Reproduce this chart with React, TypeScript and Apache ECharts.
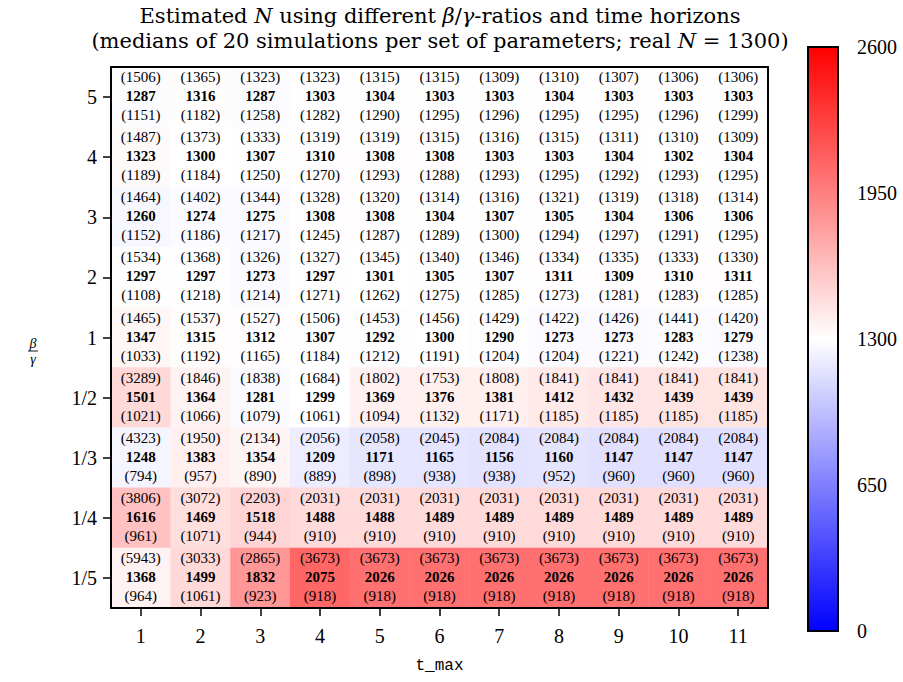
import React, { useEffect, useRef } from 'react';
import * as echarts from 'echarts';

// time horizons (columns)
const xCategories = ['1', '2', '3', '4', '5', '6', '7', '8', '9', '10', '11'];
// beta/gamma ratios, listed from top row to bottom row
const rowLabels = ['5', '4', '3', '2', '1', '1/2', '1/3', '1/4', '1/5'];

// upper quantile (first line in parentheses), rows top to bottom
const upperValues: number[][] = [
  [1506, 1365, 1323, 1323, 1315, 1315, 1309, 1310, 1307, 1306, 1306],
  [1487, 1373, 1333, 1319, 1319, 1315, 1316, 1315, 1311, 1310, 1309],
  [1464, 1402, 1344, 1328, 1320, 1314, 1316, 1321, 1319, 1318, 1314],
  [1534, 1368, 1326, 1327, 1345, 1340, 1346, 1334, 1335, 1333, 1330],
  [1465, 1537, 1527, 1506, 1453, 1456, 1429, 1422, 1426, 1441, 1420],
  [3289, 1846, 1838, 1684, 1802, 1753, 1808, 1841, 1841, 1841, 1841],
  [4323, 1950, 2134, 2056, 2058, 2045, 2084, 2084, 2084, 2084, 2084],
  [3806, 3072, 2203, 2031, 2031, 2031, 2031, 2031, 2031, 2031, 2031],
  [5943, 3033, 2865, 3673, 3673, 3673, 3673, 3673, 3673, 3673, 3673],
];

// medians (bold), rows top to bottom
const medianValues: number[][] = [
  [1287, 1316, 1287, 1303, 1304, 1303, 1303, 1304, 1303, 1303, 1303],
  [1323, 1300, 1307, 1310, 1308, 1308, 1303, 1303, 1304, 1302, 1304],
  [1260, 1274, 1275, 1308, 1308, 1304, 1307, 1305, 1304, 1306, 1306],
  [1297, 1297, 1273, 1297, 1301, 1305, 1307, 1311, 1309, 1310, 1311],
  [1347, 1315, 1312, 1307, 1292, 1300, 1290, 1273, 1273, 1283, 1279],
  [1501, 1364, 1281, 1299, 1369, 1376, 1381, 1412, 1432, 1439, 1439],
  [1248, 1383, 1354, 1209, 1171, 1165, 1156, 1160, 1147, 1147, 1147],
  [1616, 1469, 1518, 1488, 1488, 1489, 1489, 1489, 1489, 1489, 1489],
  [1368, 1499, 1832, 2075, 2026, 2026, 2026, 2026, 2026, 2026, 2026],
];

// lower quantile (last line in parentheses), rows top to bottom
const lowerValues: number[][] = [
  [1151, 1182, 1258, 1282, 1290, 1295, 1296, 1295, 1295, 1296, 1299],
  [1189, 1184, 1250, 1270, 1293, 1288, 1293, 1295, 1292, 1293, 1295],
  [1152, 1186, 1217, 1245, 1287, 1289, 1300, 1294, 1297, 1291, 1295],
  [1108, 1218, 1214, 1271, 1262, 1275, 1285, 1273, 1281, 1283, 1285],
  [1033, 1192, 1165, 1184, 1212, 1191, 1204, 1204, 1221, 1242, 1238],
  [1021, 1066, 1079, 1061, 1094, 1132, 1171, 1185, 1185, 1185, 1185],
  [794, 957, 890, 889, 898, 938, 938, 952, 960, 960, 960],
  [961, 1071, 944, 910, 910, 910, 910, 910, 910, 910, 910],
  [964, 1061, 923, 918, 918, 918, 918, 918, 918, 918, 918],
];

const colorMin = 0;
const colorMax = 2600;
const colorInterval = 650;

const SERIF = '"Liberation Serif", "Times New Roman", serif';
const TITLE_SERIF = '"DejaVu Serif", serif';

export default function App() {
  const ref = useRef<HTMLDivElement>(null);

  useEffect(() => {
    if (!ref.current) return;
    const chart = echarts.init(ref.current, undefined, { renderer: 'svg' });

    const yCategories = [...rowLabels].reverse(); // bottom to top
    const data: number[][] = [];
    rowLabels.forEach((_, r) => {
      const yi = rowLabels.length - 1 - r;
      xCategories.forEach((__, c) => {
        data.push([c, yi, medianValues[r][c], upperValues[r][c], lowerValues[r][c]]);
      });
    });

    const mainGrid = { left: 111, top: 67, width: 657, height: 541 };
    const cbGrid = { left: 808, top: 47, width: 30, height: 584 };

    const option: any = {
      animation: false,
      backgroundColor: '#ffffff',
      title: {
        left: 440,
        top: 3,
        padding: 0,
        textAlign: 'center',
        text:
          '{r|Estimated }{i|N}{r| using different }{i|β}{r|/}{i|γ}{r|-ratios and time horizons}\n' +
          '{r|(medians of 20 simulations per set of parameters; real }{i|N}{r| = 1300)}',
        textStyle: {
          fontWeight: 'normal',
          rich: {
            r: { fontFamily: TITLE_SERIF, fontSize: 21, fontWeight: 'normal', color: '#000', lineHeight: 25 },
            i: { fontFamily: TITLE_SERIF, fontSize: 21, fontWeight: 'normal', fontStyle: 'italic', color: '#000', lineHeight: 25 },
          },
        },
      },
      grid: [
        { ...mainGrid, containLabel: false },
        { ...cbGrid, containLabel: false },
      ],
      visualMap: {
        show: false,
        type: 'continuous',
        min: colorMin,
        max: colorMax,
        dimension: 2,
        seriesIndex: 0,
        inRange: { color: ['#0000ff', '#ffffff', '#ff0000'] },
      },
      xAxis: [
        {
          type: 'category',
          gridIndex: 0,
          data: xCategories,
          position: 'bottom',
          z: 5,
          axisLine: { show: true, lineStyle: { color: '#000', width: 2 } },
          axisTick: { show: true, alignWithLabel: true, length: 8, lineStyle: { color: '#000', width: 1.5 } },
          axisLabel: { margin: 18, fontFamily: SERIF, fontSize: 20, color: '#000' },
          splitLine: { show: false },
          name: 't_max',
          nameLocation: 'middle',
          nameGap: 50,
          nameTextStyle: { fontFamily: '"Liberation Mono", monospace', fontSize: 16, color: '#000' },
        },
        {
          type: 'category',
          gridIndex: 0,
          data: xCategories,
          position: 'top',
          z: 5,
          axisLine: { show: true, lineStyle: { color: '#000', width: 2 } },
          axisTick: { show: false },
          axisLabel: { show: false },
          splitLine: { show: false },
        },
        {
          type: 'value',
          gridIndex: 1,
          show: false,
          min: 0,
          max: 1,
        },
      ],
      yAxis: [
        {
          type: 'category',
          gridIndex: 0,
          data: yCategories,
          position: 'left',
          z: 5,
          axisLine: { show: true, lineStyle: { color: '#000', width: 2 } },
          axisTick: { show: true, alignWithLabel: true, length: 8, lineStyle: { color: '#000', width: 1.5 } },
          axisLabel: { margin: 14, fontFamily: SERIF, fontSize: 20, color: '#000' },
          splitLine: { show: false },
        },
        {
          type: 'category',
          gridIndex: 0,
          data: yCategories,
          position: 'right',
          z: 5,
          axisLine: { show: true, lineStyle: { color: '#000', width: 2 } },
          axisTick: { show: false },
          axisLabel: { show: false },
          splitLine: { show: false },
        },
        {
          type: 'value',
          gridIndex: 1,
          position: 'right',
          min: colorMin,
          max: colorMax,
          interval: colorInterval,
          z: 5,
          axisLine: { show: false },
          axisTick: { show: true, length: 8, lineStyle: { color: '#000', width: 1.5 } },
          axisLabel: {
            margin: 19,
            fontFamily: SERIF,
            fontSize: 20,
            color: '#000',
            formatter: (v: number) => String(v),
          },
          splitLine: { show: false },
        },
      ],
      graphic: [
        {
          type: 'rect',
          z: 10,
          shape: { x: cbGrid.left, y: cbGrid.top, width: cbGrid.width, height: cbGrid.height },
          style: {
            fill: new echarts.graphic.LinearGradient(0, 0, 0, 1, [
              { offset: 0, color: '#ff0000' },
              { offset: 0.5, color: '#ffffff' },
              { offset: 1, color: '#0000ff' },
            ]),
            stroke: '#000',
            lineWidth: 2,
          },
        },
        {
          type: 'group',
          x: 33,
          y: 351,
          children: [
            {
              type: 'text',
              x: 0,
              y: -1,
              style: { text: 'β', font: 'italic 14px "Liberation Serif", serif', fill: '#000', align: 'center', verticalAlign: 'bottom' },
            },
            {
              type: 'line',
              shape: { x1: -5, y1: 0, x2: 5, y2: 0 },
              style: { stroke: '#000', lineWidth: 0.9 },
            },
            {
              type: 'text',
              x: 0,
              y: 1,
              style: { text: 'γ', font: 'italic 14px "Liberation Serif", serif', fill: '#000', align: 'center', verticalAlign: 'top' },
            },
          ],
        },
      ],
      series: [
        {
          type: 'heatmap',
          xAxisIndex: 0,
          yAxisIndex: 0,
          data,
          z: 2,
          itemStyle: { borderWidth: 0 },
          emphasis: { disabled: true },
          label: {
            show: true,
            offset: [0, -1],
            formatter: (p: any) => {
              const d = p.data as number[];
              return `{u|(${d[3]})}\n{m|${d[2]}}\n{u|(${d[4]})}`;
            },
            rich: {
              u: { fontFamily: SERIF, fontSize: 15, lineHeight: 19, color: '#000' },
              m: { fontFamily: SERIF, fontSize: 15, fontWeight: 'bold', lineHeight: 19, color: '#000' },
            },
          },
        },
      ],
    };

    chart.setOption(option);
    return () => chart.dispose();
  }, []);

  return <div ref={ref} style={{ width: 903, height: 682, position: 'absolute', left: 0, top: 0 }} />;
}
